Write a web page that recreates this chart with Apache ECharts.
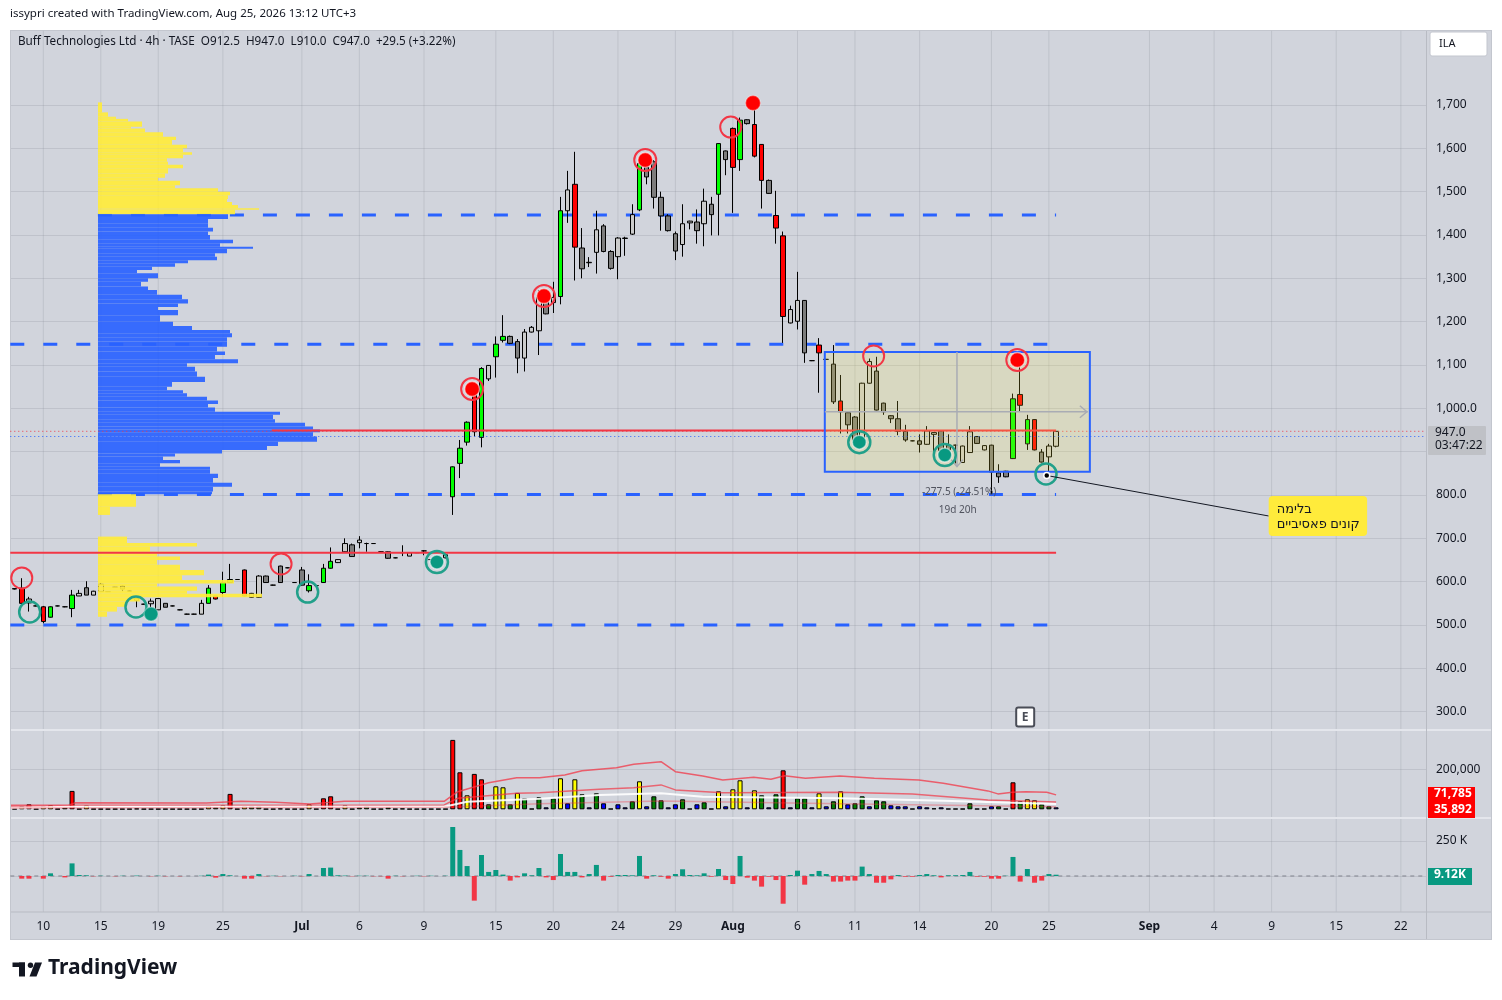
<!DOCTYPE html>
<html>
<head>
<meta charset="utf-8">
<title>Buff Technologies Ltd · 4h · TASE</title>
<script src="https://cdn.jsdelivr.net/npm/echarts@6.0.0/dist/echarts.min.js"></script>
<style>
  html, body { margin:0; padding:0; background:#ffffff; width:1502px; height:1000px; overflow:hidden; }
  #frame { position:absolute; left:10px; top:30px; width:1482px; height:910px; background:#d1d4dc; box-sizing:border-box; border:1px solid #c3c6ce; }
  #chart { position:absolute; left:0; top:0; width:1502px; height:1000px; }
</style>
</head>
<body>
<div id="frame"></div>
<div id="chart"></div>
<script>
const FONT = '"Noto Sans", "DejaVu Sans", Roboto, sans-serif';
const N_SLOTS = 197;

// ---------------- candles (4h bars) ----------------
const openP = [
584,585,551,544,542,518,544,542,538,567,
586,569,577,577,587,590,578,557,548,549,
535,550,544,535,525,525,525,550,567,575,
598,605,627,564,564,613,592,636,632,598,
627,579,591,598,631,644,669,685,690,688,
688,669,669,655,667,659,667,671,651,647,
655,796,873,922,1042,933,1068,1119,1157,1166,
1154,1116,1176,1179,1258,1244,1258,1456,1517,1370,
1336,1360,1421,1362,1350,1392,1402,1458,1557,1569,
1487,1444,1403,1378,1428,1430,1426,1471,1494,1594,
1646,1574,1666,1655,1609,1526,1445,1398,1197,1201,
1249,1110,1146,1113,1102,1017,990,980,927,1058,
1086,1012,983,976,947,925,925,917,940,948,
915,915,875,898,935,904,915,851,855,884,
1032,918,974,899,888,912.5];
const closeP = [
583,550,560,544,508,542,544,542,569,573,
569,578,594,577,587,583,578,561,548,555,
561,541,544,535,525,525,550,585,560,598,
605,605,567,573,613,598,592,598,632,598,
592,591,591,631,647,651,688,658,696,688,
688,669,654,655,667,667,667,671,651,647,
662,865,908,968,946,1092,1099,1148,1166,1150,
1116,1176,1187,1256,1218,1256,1456,1504,1372,1322,
1337,1412,1362,1323,1393,1393,1447,1565,1534,1487,
1444,1410,1363,1426,1432,1410,1478,1447,1611,1574,
1556,1665,1657,1582,1526,1496,1416,1212,1228,1249,
1128,1110,1128,1113,1015,992,962,927,1058,1108,
996,992,976,947,927,925,917,948,944,902,
904,915,913,946,919,914,853,842,842,1022,
1007,974,904,876,913,947];
const lowP = [
582,548,531,543,504,517,543,541,518,567,
569,569,577,576,586,578,577,541,547,541,
535,541,543,534,524,524,525,550,559,565,
598,604,566,563,563,597,591,597,631,597,
591,575,590,597,630,643,668,657,677,669,
687,668,653,654,659,659,666,661,650,646,
654,754,839,914,935,910,1063,1071,1152,1148,
1081,1085,1175,1123,1217,1220,1240,1428,1295,1300,
1326,1311,1360,1320,1298,1352,1400,1455,1517,1461,
1410,1408,1342,1350,1413,1380,1374,1399,1399,1538,
1451,1548,1655,1579,1461,1495,1380,1151,1196,1182,
1105,1109,1036,1112,1010,942,942,925,915,1057,
995,985,966,938,923,924,898,916,900,901,
903,873,874,897,918,903,803,828,841,883,
992,904,903,875,844,910];
const highP = [
585,608,565,545,544,543,545,543,581,581,
601,579,597,578,588,592,579,561,549,561,
561,550,545,536,526,526,558,592,567,623,
641,606,628,574,615,614,593,637,633,599,
634,617,592,641,679,652,700,688,705,690,
689,670,670,656,684,667,668,673,652,648,
663,866,927,970,1045,1095,1100,1166,1215,1168,
1160,1183,1190,1273,1265,1292,1488,1548,1592,1416,
1349,1456,1425,1365,1395,1396,1471,1570,1580,1573,
1500,1448,1408,1471,1433,1459,1507,1488,1612,1595,
1648,1671,1667,1688,1610,1528,1502,1408,1237,1315,
1250,1111,1162,1114,1146,1077,991,982,1059,1115,
1119,1013,984,1017,962,926,940,959,945,949,
940,916,914,959,936,915,916,871,856,1034,
1109,985,975,906,918,947];
// g = green, r = red, l = light grey, d = dark grey
const candleTone = [
'd','r','l','d','r','g','d','d','g','l',
'd','l','l','d','d','d','d','l','d','l',
'l','d','d','d','d','d','l','g','r','g',
'g','d','r','l','l','d','d','d','d','d',
'd','g','d','g','g','l','l','d','l','d',
'd','d','d','d','d','l','d','d','d','d',
'l','g','g','g','r','g','l','g','g','d',
'd','l','l','l','d','l','g','l','r','d',
'l','l','d','d','l','l','l','g','d','d',
'd','d','d','l','l','d','l','d','g','d',
'r','g','d','r','r','d','r','r','l','l',
'd','d','r','d','d','r','d','d','l','l',
'd','d','d','d','d','d','d','l','l','d',
'd','d','l','l','d','l','d','d','d','g',
'r','g','r','d','l','l'];

// ---------------- volume (thousands) ----------------
const volK = [
3,15,25,2,15,20,2,10,92,2,
20,2,2,2,2,2,2,4,2,2,
2,2,2,2,2,2,2,15,10,20,
77,2,15,15,15,2,2,4,2,2,
2,25,2,55,65,2,20,2,10,15,
2,2,10,2,4,2,2,2,2,2,
2,347,185,70,177,150,25,115,110,25,
82,55,3,60,10,55,155,30,150,75,
10,80,30,3,25,10,40,140,15,65,
45,10,25,50,3,25,35,3,90,15,
100,145,10,95,70,10,75,195,10,55,
55,10,80,15,40,90,25,30,65,15,
45,40,20,15,15,3,15,10,5,10,
3,3,3,30,3,3,15,15,3,135,
40,50,45,25,15,10];
// y = yellow, r = red, g = green, b = blue, k = black
const volTone = [
'k','y','r','k','y','y','k','g','r','k',
'y','k','k','k','k','k','k','k','k','k',
'k','k','k','k','k','k','k','y','g','y',
'r','k','y','g','g','k','k','k','k','k',
'k','y','k','r','r','k','y','k','g','g',
'k','k','g','k','k','k','k','k','k','k',
'k','r','r','y','r','r','g','y','y','g',
'y','g','k','g','b','g','y','b','y','g',
'b','g','b','k','b','b','g','y','b','g',
'g','b','b','g','k','b','g','k','y','b',
'y','y','b','y','g','b','g','r','b','g',
'g','b','y','b','g','y','b','g','g','b',
'g','g','b','b','b','k','b','b','b','b',
'k','k','k','g','k','k','b','g','k','r',
'g','y','y','g','g','b'];
// volume threshold lines (bar position, thousands)
const volUpperIdx = [-0.5,7.5,8.5,26.7,31.5,36.3,41.1,45.9,59.8,61.7,66,69.9,73.1,76.6,79,83.8,86.2,90,92,95.8,98.6,102.9,105.3,107.2,110.1,114.9,119.7,125.9,129.3,135.5,136.9,138.9,140.8,143.7,145];
const volUpperK   = [20,20,33,32,40,35,27,40,40,88,133,158,158,172,193,208,225,238,188,167,147,160,150,168,155,167,155,147,130,92,77,85,88,85,72];
const volMidIdx   = [-0.5,7.5,8.5,59.8,61.7,69.9,73.1,81.4,86.2,90,92,98.6,114.9,125,135.5,138.9,145];
const volMidK     = [13,13,20,22,55,80,83,100,108,122,97,83,85,77,47,43,36];
const volWhiteIdx = [-0.5,8.5,59.8,63,73.1,81.4,90,95.8,114.9,129.3,145];
const volWhiteK   = [8,13,13,38,53,72,80,63,55,43,27];
const volLowIdx   = [-0.5,59.8,73.1,90,114.9,145];
const volLowK     = [7,10,28,42,28,13];

// ---------------- lower oscillator (thousands) ----------------
const deltaK = [
0,-19,-19,0,-19,19,0,-10,90,7,
5,-2,2,0,-2,2,0,3,0,-2,
2,-2,0,-2,0,0,2,10,-12,14,
5,0,-19,-19,14,-2,2,-2,0,2,
-2,14,0,57,60,5,3,-2,2,2,
-2,-2,-19,2,-2,0,2,-2,2,0,
2,350,186,71,-176,150,29,43,10,-33,
-10,19,5,57,-10,-29,157,29,29,-10,
14,79,-33,-5,7,7,5,143,-19,5,
-5,-19,14,48,7,5,19,-5,50,-29,
-57,143,-12,-33,-76,-5,-29,-198,7,38,
-62,14,36,14,-40,-40,-33,-33,67,14,
-48,-48,-24,7,-5,-5,7,14,5,-10,
5,5,7,29,-5,-5,-19,-19,2,136,
-40,50,-48,-33,14,9.12];

// ---------------- time axis ----------------
const tickIdx  = [4,12,20,29,40,48,57,67,75,84,92,100,109,117,126,136,144,158,167,175,184,193];
const tickText = ['10','15','19','25','Jul','6','9','15','20','24','29','Aug','6','11','14','20','25','Sep','4','9','15','22'];
const MONTHS = ['Jul','Aug','Sep'];

// ---------------- volume profile (price row top / bottom, volume, zone 0 = yellow, 1 = blue) ----------------
const profHi = [1706,1683,1673,1668,1662,1650,1646,1637,1627,1619,1608,1600,1591,1585,1577,1569,1562,1554,1542,1532,1525,1515,1508,1500,1492,1483,1476,1469,1462,1458,
1448,1437,1427,1417,1408,1400,1389,1381,1373,1368,1358,1350,1342,1335,1327,1319,1312,1300,1292,1281,1273,1262,1252,1242,1234,1227,1215,1200,1190,1181,1173,1164,1154,1142,1131,1123,1113,1104,1096,1085,1073,1061,1050,1042,1035,1027,1018,1010,1002,992,985,975,967,958,951,945,935,923,913,904,896,889,881,873,865,858,849,839,828,819,808,
802,773,704,689,681,669,665,658,650,639,627,615,604,596,589,579,572,564,554,542,531];
const profLo = [1683,1673,1668,1662,1650,1646,1637,1627,1619,1608,1600,1591,1585,1577,1569,1562,1554,1542,1532,1525,1515,1508,1500,1492,1483,1476,1469,1462,1458,1448,
1437,1427,1417,1408,1400,1389,1381,1373,1368,1358,1350,1342,1335,1327,1319,1312,1300,1292,1281,1273,1262,1252,1242,1234,1227,1215,1200,1190,1181,1173,1164,1154,1142,1131,1123,1113,1104,1096,1085,1073,1061,1050,1042,1035,1027,1018,1010,1002,992,985,975,967,958,951,945,935,923,913,904,896,889,881,873,865,858,849,839,828,819,808,802,
773,754,689,681,669,665,658,650,639,627,615,604,596,589,579,572,564,554,542,531,519];
const profVol = [4,10,18,30,44,33,47,65,78,74,89,85,94,85,69,70,85,70,67,60,82,77,120,132,130,129,134,140,161,137,
130,110,110,115,110,112,135,122,155,129,117,119,90,77,54,39,60,50,43,50,59,84,90,80,60,80,62,75,94,132,134,129,129,119,127,117,140,89,97,99,107,74,69,85,89,109,120,110,117,182,175,177,207,215,222,215,219,180,169,124,77,65,82,62,112,112,120,115,134,115,114,
38,12,29,99,52,92,59,82,59,82,106,84,136,59,99,89,164,42,29,19,9];
const profZone = profHi.map(h => (h <= 1448 && h > 802) ? 1 : 0);

// ---------------- drawings ----------------
const levelPrice = [1446, 1148, 801, 500];          // blue dashed levels
const levelFrom  = [11.6, -0.6, 11.6, -0.6];
const levelTo    = [145, 143.9, 145, 143.9];
const redPrice   = [667, 949];                      // red solid levels
const redFrom    = [-0.6, 35.8];
const redTo      = [145, 145];
const lastPrice = 947, bluePrice = 935;             // dotted price lines
const boxX = [112.8, 149.7], boxP = [1130, 853.5];  // range rectangle
const measureP = 992, measureIdx = 131.2;
const measureText = ['-277.5 (-24.51%)', '19d 20h'];
const measureTextPos = [[131.5, 806], [131.3, 765]];

const redRingX = [1, 37.1, 119.6, 99.7],        redRingP = [608.5, 640.8, 1120.8, 1649];
const redRingDotX = [63.7, 73.7, 87.8, 139.6],  redRingDotP = [1044.6, 1259, 1573, 1111.5];
const redDotX = [102.8],                         redDotP = [1704.6];
const tealRingX = [2.1, 16.9, 40.8, 143.6],     tealRingP = [530, 541.5, 576, 848.5];
const tealRingDotX = [58.8, 117.6, 129.5],      tealRingDotP = [645.4, 922, 892.3];
const tealDotX = [19],                           tealDotP = [525.4];

const calloutAnchor = [143.7, 845];
const calloutBox = [174.6, 797.7, 188.3, 705.4];
const calloutLines = ['בלימה', 'קונים פאסיביים'];
const earningsPos = [140.7, 287.5];

// ---------------- build ----------------
const chart = echarts.init(document.getElementById('chart'), null, {renderer:'canvas'});
const TONE = {g:'#00ff00', r:'#ff0000', l:'#cbcbcb', d:'#7d7d7d'};
const VTONE = {y:'#ffff00', r:'#ff0000', g:'#008000', b:'#0000ff', k:'#000000'};
const GRID_C = 'rgba(120,124,136,0.2)';
const TXT = '#131722';

const slotCats = Array.from({length:N_SLOTS}, (_, i) => String(i));
const slotText = Array(N_SLOTS).fill('');
tickIdx.forEach((ix, k) => { slotText[ix] = tickText[k]; });

const candleData = openP.map((o, i) => {
  const c = TONE[candleTone[i]];
  return { value:[o, closeP[i], lowP[i], highP[i]],
    itemStyle:{color:c, color0:c, borderColor:'#000', borderColor0:'#000', borderColorDoji:'#000'} };
});
const volData = volK.map((v, i) => ({ value: v * 1000, itemStyle:{ color: VTONE[volTone[i]] } }));
const oscData = deltaK.map(v => ({ value: v * 1000, itemStyle:{ color: v >= 0 ? '#089981' : '#f23645' } }));
const pairs = (xs, ys, m) => xs.map((x, i) => [x, ys[i] * (m || 1)]);

function commaFmt(v) { return String(v).replace(/\B(?=(\d{3})+(?!\d))/g, ','); }

function vGrid(xAxisIndex, yAxisIndex, lo, hi) {
  return { type:'custom', xAxisIndex, yAxisIndex, silent:true, z:0, clip:false,
    data: tickIdx.map(ix => [ix, lo, hi]),
    renderItem: (p, api) => {
      const a = api.coord([api.value(0), api.value(1)]);
      const b = api.coord([api.value(0), api.value(2)]);
      return { type:'line', shape:{x1:a[0], y1:a[1], x2:b[0], y2:b[1]}, style:{stroke:GRID_C, lineWidth:1} };
    } };
}

function hLines(prices, from, to, style, z) {
  return { type:'custom', xAxisIndex:1, yAxisIndex:0, silent:true, z, clip:false,
    data: prices.map((p, i) => [from[i], to[i], p]),
    renderItem: (params, api) => {
      const a = api.coord([api.value(0), api.value(2)]);
      const b = api.coord([api.value(1), api.value(2)]);
      return { type:'line', shape:{x1:a[0], y1:a[1], x2:b[0], y2:b[1]}, style:Object.assign({}, style) };
    } };
}

function ringSeries(xs, ps, size, color, width, z) {
  return { type:'scatter', xAxisIndex:1, yAxisIndex:0, silent:true, z, symbol:'circle', symbolSize:size,
    data: pairs(xs, ps), itemStyle:{ color:'rgba(0,0,0,0)', borderColor:color, borderWidth:width, opacity:1 } };
}
function dotSeries(xs, ps, size, color, border, z) {
  return { type:'scatter', xAxisIndex:1, yAxisIndex:0, silent:true, z, symbol:'circle', symbolSize:size,
    data: pairs(xs, ps), itemStyle:{ color, borderColor:border, borderWidth:1.5, opacity:1 } };
}

const gridBase = { outerBoundsMode:'none', containLabel:false };
const option = {
  animation:false,
  backgroundColor:'transparent',
  textStyle:{ fontFamily:FONT },
  grid:[
    Object.assign({ left:11, right:76, top:61.67, height:650 }, gridBase),   // price
    Object.assign({ left:11, right:76, top:731, height:78.3 }, gridBase),    // volume
    Object.assign({ left:11, right:76, top:819, height:92 }, gridBase),      // oscillator
    Object.assign({ left:98, width:300, top:61.67, height:650 }, gridBase)   // volume profile
  ],
  xAxis:[
    { type:'category', gridIndex:0, data:slotCats, show:false },
    { type:'value', gridIndex:0, min:-0.5, max:N_SLOTS - 0.5, show:false },
    { type:'category', gridIndex:1, data:slotCats, show:false },
    { type:'value', gridIndex:1, min:-0.5, max:N_SLOTS - 0.5, show:false },
    { type:'category', gridIndex:2, data:slotCats,
      axisLine:{ show:false }, axisTick:{ show:false }, splitLine:{ show:false },
      axisLabel:{ interval:0, hideOverlap:false, margin:10, color:TXT, fontSize:12, fontFamily:FONT,
        formatter:(v, i) => { const t = slotText[Number(v)]; return t ? (MONTHS.includes(t) ? '{b|' + t + '}' : t) : ''; },
        rich:{ b:{ fontWeight:'bold', fontSize:12, color:TXT, fontFamily:FONT } } } },
    { type:'value', gridIndex:2, min:-0.5, max:N_SLOTS - 0.5, show:false },
    { type:'value', gridIndex:3, min:0, max:300, show:false }
  ],
  yAxis:[
    { type:'value', gridIndex:0, position:'right', min:300, max:1800, interval:100,
      axisLine:{ show:false }, axisTick:{ show:false },
      splitLine:{ show:true, showMaxLine:false, lineStyle:{ color:GRID_C } },
      axisLabel:{ margin:10, color:TXT, fontSize:12, fontFamily:FONT,
        formatter:v => (v > 1700 || v < 300) ? '' : (v >= 1100 ? commaFmt(v) : commaFmt(v.toFixed(1)).replace(/,(\d)$/, '$1')) } },
    { type:'value', gridIndex:1, position:'right', min:0, max:391500, interval:200000,
      axisLine:{ show:false }, axisTick:{ show:false },
      splitLine:{ show:true, showMaxLine:false, showMinLine:false, lineStyle:{ color:GRID_C } },
      axisLabel:{ margin:10, color:TXT, fontSize:12, fontFamily:FONT, formatter:v => v === 200000 ? '200,000' : '' } },
    { type:'value', gridIndex:2, position:'right', min:-250000, max:407000, interval:250000,
      axisLine:{ show:false }, axisTick:{ show:false },
      splitLine:{ show:true, showMaxLine:false, showMinLine:false, lineStyle:{ color:GRID_C } },
      axisLabel:{ margin:10, color:TXT, fontSize:12, fontFamily:FONT, formatter:v => v === 250000 ? '250 K' : '' } },
    { type:'value', gridIndex:3, min:300, max:1800, show:false }
  ],
  series:[
    vGrid(1, 0, 260, 1871),
    vGrid(3, 1, -43500, 391500),
    vGrid(5, 2, -257000, 407000),
    hLines(levelPrice, levelFrom, levelTo, { stroke:'#2962ff', lineWidth:3, lineDash:[14, 19] }, 1),
    { type:'candlestick', xAxisIndex:0, yAxisIndex:0, z:2, barWidth:5, silent:true, data:candleData,
      itemStyle:{ borderWidth:1 } },
    { type:'custom', xAxisIndex:6, yAxisIndex:3, z:3, silent:true, clip:false,
      data: profHi.map((h, i) => [profVol[i], h, profLo[i], profZone[i]]),
      renderItem:(p, api) => {
        const a = api.coord([0, api.value(1)]);
        const b = api.coord([api.value(0), api.value(2)]);
        return { type:'rect', shape:{ x:a[0], y:a[1], width:b[0] - a[0], height:Math.max(1, b[1] - a[1]) },
          style:{ fill: api.value(3) === 1 ? '#2962ff' : '#ffeb3b', opacity:0.92 } };
      } },
    hLines(redPrice, redFrom, redTo, { stroke:'#f23645', lineWidth:2 }, 4),
    hLines([lastPrice], [-0.6], [N_SLOTS - 0.5], { stroke:'#f23645', lineWidth:1, lineDash:[1, 3] }, 4),
    hLines([bluePrice], [-0.6], [N_SLOTS - 0.5], { stroke:'#2962ff', lineWidth:1, lineDash:[1, 3] }, 4),
    // range rectangle
    { type:'custom', xAxisIndex:1, yAxisIndex:0, z:5, silent:true, clip:false,
      data:[[boxX[0], boxP[0], boxX[1], boxP[1]]],
      renderItem:(p, api) => {
        const a = api.coord([api.value(0), api.value(1)]);
        const b = api.coord([api.value(2), api.value(3)]);
        return { type:'rect', shape:{ x:a[0], y:a[1], width:b[0] - a[0], height:b[1] - a[1] },
          style:{ fill:'rgba(255,235,59,0.17)', stroke:'#2962ff', lineWidth:2 } };
      } },
    // measure lines + texts
    { type:'custom', xAxisIndex:1, yAxisIndex:0, z:6, silent:true, clip:false,
      data:[[boxX[0], boxX[1], measureP, measureIdx, boxP[0], boxP[1]]],
      renderItem:(p, api) => {
        const h0 = api.coord([api.value(0), api.value(2)]);
        const h1 = api.coord([api.value(1), api.value(2)]);
        const v0 = api.coord([api.value(3), api.value(4)]);
        const v1 = api.coord([api.value(3), api.value(5) + 12]);
        const st = { stroke:'#a9acb4', lineWidth:1.5, fill:null };
        return { type:'group', children:[
          { type:'line', shape:{ x1:h0[0], y1:h0[1], x2:h1[0] - 2, y2:h1[1] }, style:st },
          { type:'polyline', shape:{ points:[[h1[0] - 10, h1[1] - 6], [h1[0] - 3, h1[1]], [h1[0] - 10, h1[1] + 6]] }, style:st },
          { type:'line', shape:{ x1:v0[0], y1:v0[1], x2:v1[0], y2:v1[1] }, style:st },
          { type:'polyline', shape:{ points:[[v1[0] - 6, v1[1] - 7], [v1[0], v1[1]], [v1[0] + 6, v1[1] - 7]] }, style:st }
        ] };
      } },
    { type:'custom', xAxisIndex:1, yAxisIndex:0, z:6, silent:true, clip:false,
      data: measureTextPos,
      renderItem:(p, api) => {
        const c = api.coord([api.value(0), api.value(1)]);
        return { type:'text', style:{ text:measureText[p.dataIndex], x:c[0], y:c[1], fill:'#50535e',
          font:'10px ' + FONT, align:'center', verticalAlign:'middle', textAlign:'center', textVerticalAlign:'middle' } };
      } },
    // signal circles
    ringSeries(redRingX, redRingP, 21, '#f23645', 2, 7),
    ringSeries(redRingDotX, redRingDotP, 22, '#f23645', 2, 7),
    dotSeries(redRingDotX, redRingDotP, 15, '#ff0000', 'rgba(255,255,255,0.55)', 8),
    dotSeries(redDotX, redDotP, 15, '#ff0000', 'rgba(255,255,255,0.3)', 8),
    ringSeries(tealRingX, tealRingP, 21, '#22a08a', 2.5, 7),
    ringSeries(tealRingDotX, tealRingDotP, 22, '#22a08a', 2.5, 7),
    dotSeries(tealRingDotX, tealRingDotP, 14, '#089981', 'rgba(255,255,255,0.55)', 8),
    dotSeries(tealDotX, tealDotP, 14, '#089981', 'rgba(255,255,255,0.3)', 8),
    dotSeries([calloutAnchor[0]], [calloutAnchor[1]], 6, '#000000', '#ffffff', 9),
    // callout
    { type:'custom', xAxisIndex:1, yAxisIndex:0, z:9, silent:true, clip:false,
      data:[[calloutAnchor[0], calloutAnchor[1], calloutBox[0], calloutBox[1], calloutBox[2], calloutBox[3]]],
      renderItem:(p, api) => {
        const an = api.coord([api.value(0), api.value(1)]);
        const a = api.coord([api.value(2), api.value(3)]);
        const b = api.coord([api.value(4), api.value(5)]);
        const midY = (a[1] + b[1]) / 2;
        const tf = '13px ' + FONT;
        return { type:'group', children:[
          { type:'line', shape:{ x1:an[0], y1:an[1], x2:a[0], y2:midY }, style:{ stroke:'#131722', lineWidth:1 } },
          { type:'rect', shape:{ x:a[0], y:a[1], width:b[0] - a[0], height:b[1] - a[1], r:4 }, style:{ fill:'#ffeb3b' } },
          { type:'text', style:{ text:calloutLines[0], x:a[0] + 8, y:a[1] + 13, fill:'#131722', font:tf,
            align:'left', verticalAlign:'middle', textAlign:'left', textVerticalAlign:'middle' } },
          { type:'text', style:{ text:calloutLines[1], x:a[0] + 8, y:a[1] + 28, fill:'#131722', font:tf,
            align:'left', verticalAlign:'middle', textAlign:'left', textVerticalAlign:'middle' } }
        ] };
      } },
    // earnings marker
    { type:'custom', xAxisIndex:1, yAxisIndex:0, z:9, silent:true, clip:false,
      data:[earningsPos],
      renderItem:(p, api) => {
        const c = api.coord([api.value(0), api.value(1)]);
        return { type:'group', children:[
          { type:'rect', shape:{ x:c[0] - 9, y:c[1] - 9.5, width:18, height:19, r:2 }, style:{ fill:'#ffffff', stroke:'#4a4d57', lineWidth:2 } },
          { type:'text', style:{ text:'E', x:c[0], y:c[1] + 0.5, fill:'#4a4d57', font:'bold 12px ' + FONT,
            align:'center', verticalAlign:'middle', textAlign:'center', textVerticalAlign:'middle' } }
        ] };
      } },
    // volume pane
    { type:'bar', xAxisIndex:2, yAxisIndex:1, z:2, barWidth:5, silent:true, data:volData,
      itemStyle:{ borderColor:'#000', borderWidth:1 } },
    { type:'line', xAxisIndex:3, yAxisIndex:1, z:3, silent:true, showSymbol:false, data:pairs(volUpperIdx, volUpperK, 1000),
      lineStyle:{ color:'rgba(242,54,69,0.75)', width:1.5 } },
    { type:'line', xAxisIndex:3, yAxisIndex:1, z:3, silent:true, showSymbol:false, data:pairs(volMidIdx, volMidK, 1000),
      lineStyle:{ color:'rgba(242,54,69,0.7)', width:1.5 } },
    { type:'line', xAxisIndex:3, yAxisIndex:1, z:3, silent:true, showSymbol:false, data:pairs(volWhiteIdx, volWhiteK, 1000),
      lineStyle:{ color:'rgba(255,255,255,0.9)', width:2 } },
    { type:'line', xAxisIndex:3, yAxisIndex:1, z:3, silent:true, showSymbol:false, data:pairs(volLowIdx, volLowK, 1000),
      lineStyle:{ color:'rgba(242,54,69,0.35)', width:1.5 } },
    // oscillator pane
    { type:'custom', xAxisIndex:5, yAxisIndex:2, z:1, silent:true, clip:false,
      data:[[-0.6, N_SLOTS - 0.5, 0]],
      renderItem:(p, api) => {
        const a = api.coord([api.value(0), api.value(2)]);
        const b = api.coord([api.value(1), api.value(2)]);
        return { type:'line', shape:{ x1:a[0], y1:a[1], x2:b[0], y2:b[1] }, style:{ stroke:'#80838d', lineWidth:1, lineDash:[4, 4] } };
      } },
    { type:'bar', xAxisIndex:4, yAxisIndex:2, z:2, barWidth:5, silent:true, data:oscData }
  ],
  graphic:[
    { type:'text', left:10, top:8, z:10, style:{ text:'issypri created with TradingView.com, Aug 25, 2026 13:12 UTC+3', fill:TXT, font:'11.5px ' + FONT } },
    { type:'text', left:18, top:36, z:10, style:{ text:'Buff Technologies Ltd · 4h · TASE  O912.5  H947.0  L910.0  C947.0  +29.5 (+3.22%)', fill:TXT, font:'11.7px ' + FONT } },
    // pane separators
    { type:'line', z:10, shape:{ x1:11, y1:730, x2:1491, y2:730 }, style:{ stroke:'#e4e6ec', lineWidth:2 } },
    { type:'line', z:10, shape:{ x1:11, y1:818, x2:1491, y2:818 }, style:{ stroke:'#e4e6ec', lineWidth:2 } },
    { type:'line', z:10, shape:{ x1:11, y1:912, x2:1491, y2:912 }, style:{ stroke:'#b8bbc3', lineWidth:1 } },
    { type:'line', z:10, shape:{ x1:1426.5, y1:31, x2:1426.5, y2:939 }, style:{ stroke:'#b8bbc3', lineWidth:1 } },
    // currency box
    { type:'rect', z:10, shape:{ x:1430, y:32, width:57, height:24, r:2 }, style:{ fill:'#ffffff', stroke:'#c3c6ce' } },
    { type:'text', z:11, left:1439, top:38, style:{ text:'ILA', fill:TXT, font:'11px ' + FONT } },
    // last price badge
    { type:'rect', z:10, shape:{ x:1428, y:426, width:58, height:29, r:1 }, style:{ fill:'#bfc1c6' } },
    { type:'text', z:11, left:1435, top:427, style:{ text:'947.0', fill:TXT, font:'12px ' + FONT } },
    { type:'text', z:11, left:1435, top:440, style:{ text:'03:47:22', fill:TXT, font:'12px ' + FONT } },
    // volume badge
    { type:'rect', z:10, shape:{ x:1428, y:787, width:47, height:31 }, style:{ fill:'#ff0000' } },
    { type:'text', z:11, left:1434, top:788, style:{ text:'71,785', fill:'#ffffff', font:'bold 12px ' + FONT } },
    { type:'text', z:11, left:1434, top:804, style:{ text:'35,892', fill:'#ffffff', font:'bold 12px ' + FONT } },
    // oscillator badge
    { type:'rect', z:10, shape:{ x:1428, y:868, width:44, height:17 }, style:{ fill:'#089981' } },
    { type:'text', z:11, left:1434, top:869, style:{ text:'9.12K', fill:'#ffffff', font:'bold 12px ' + FONT } },
    // TradingView logo
    { type:'rect', z:10, shape:{ x:12.5, y:962.5, width:12.5, height:4.5 }, style:{ fill:'#131722' } },
    { type:'rect', z:10, shape:{ x:19, y:962.5, width:6, height:14 }, style:{ fill:'#131722' } },
    { type:'circle', z:10, shape:{ cx:30.5, cy:965.3, r:2.7 }, style:{ fill:'#131722' } },
    { type:'polygon', z:10, shape:{ points:[[35,962.5],[42,962.5],[36.5,976.5],[29.5,976.5]] }, style:{ fill:'#131722' } },
    { type:'text', z:10, left:48, top:958, style:{ text:'TradingView', fill:'#131722', font:'bold 21px ' + FONT } }
  ]
};
chart.setOption(option);
</script>
</body>
</html>
